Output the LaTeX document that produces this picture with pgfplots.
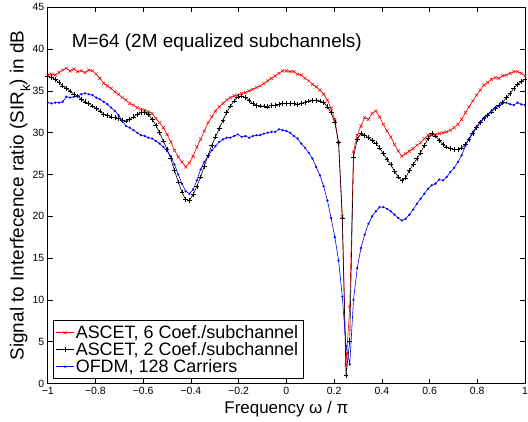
\documentclass[border=0pt]{standalone}
\usepackage{fontspec}
\setmainfont{Liberation Sans}
\usepackage{pgfplots}
\usepackage{pgfplotstable}
\pgfplotsset{compat=1.18}
\pgfplotstableread{
x r b o
-1.0000 36.9 36.8 33.6
-0.9844 37.0 36.6 33.5
-0.9688 36.9 36.4 33.6
-0.9531 37.2 36.0 33.6
-0.9375 37.5 35.6 33.7
-0.9219 37.7 35.3 34.3
-0.9063 37.4 35.0 34.2
-0.8906 37.6 34.6 34.3
-0.8750 37.3 34.4 34.4
-0.8594 37.4 34.0 34.6
-0.8438 37.2 33.7 34.7
-0.8281 37.5 33.5 34.6
-0.8125 37.4 33.2 34.5
-0.7969 37.0 32.9 34.2
-0.7813 36.5 32.6 34.0
-0.7656 35.9 32.2 33.7
-0.7500 35.6 32.1 33.4
-0.7344 35.3 31.9 33.0
-0.7188 34.9 31.8 32.6
-0.7031 34.6 31.7 32.1
-0.6875 34.2 31.5 31.4
-0.6719 33.9 31.4 30.8
-0.6563 33.5 31.6 30.6
-0.6406 33.3 31.9 30.3
-0.6250 33.0 32.2 30.0
-0.6094 32.8 32.4 29.7
-0.5938 32.7 32.4 29.6
-0.5781 32.5 32.2 29.4
-0.5625 32.3 31.6 29.3
-0.5469 31.7 30.9 29.0
-0.5313 31.2 30.0 28.7
-0.5156 30.6 29.0 28.3
-0.5000 29.8 28.0 27.8
-0.4844 28.9 26.9 27.2
-0.4688 27.9 25.5 26.2
-0.4531 27.1 24.1 25.0
-0.4375 26.5 22.9 23.9
-0.4219 25.9 22.0 23.0
-0.4063 26.4 21.9 22.7
-0.3906 27.2 22.6 23.2
-0.3750 28.3 23.6 24.3
-0.3594 29.2 24.7 25.6
-0.3438 30.2 26.0 26.5
-0.3281 31.2 27.3 27.2
-0.3125 31.9 28.5 27.9
-0.2969 32.6 29.5 28.4
-0.2813 33.1 30.5 28.9
-0.2656 33.5 31.5 29.2
-0.2500 33.9 32.4 29.4
-0.2344 34.2 33.2 29.4
-0.2188 34.4 33.8 29.6
-0.2031 34.5 34.3 29.8
-0.1875 34.7 34.4 29.5
-0.1719 34.8 34.2 29.6
-0.1563 35.0 33.9 29.4
-0.1406 35.2 33.5 29.6
-0.1250 35.4 33.3 29.7
-0.1094 35.6 33.2 29.7
-0.0938 35.9 33.2 29.9
-0.0781 36.2 33.1 30.0
-0.0625 36.5 33.3 30.1
-0.0469 36.8 33.3 30.1
-0.0313 37.1 33.4 30.4
-0.0156 37.4 33.5 30.3
0.0000 37.4 33.5 30.2
0.0156 37.3 33.5 30.0
0.0313 37.3 33.5 29.6
0.0469 37.0 33.4 29.3
0.0625 36.9 33.5 28.7
0.0781 36.5 33.6 28.2
0.0938 36.2 33.8 27.6
0.1094 35.8 33.9 26.9
0.1250 35.5 33.9 25.9
0.1406 35.1 33.8 24.9
0.1563 34.6 33.6 23.6
0.1719 33.9 33.1 21.9
0.1875 32.9 32.4 19.8
0.2031 31.6 31.2 17.5
0.2188 28.8 28.8 14.7
0.2344 20.0 19.8 10.4
0.2500 2.2 1.0 4.5
0.2656 9.2 5.1 2.3
0.2813 27.7 27.1 10.0
0.2969 29.7 29.2 13.8
0.3125 30.8 29.9 16.2
0.3281 31.8 29.7 17.8
0.3438 31.6 29.4 19.1
0.3594 32.3 29.1 20.0
0.3750 32.6 28.7 20.6
0.3906 31.9 28.2 21.1
0.4063 31.0 27.5 21.1
0.4219 30.2 26.8 20.9
0.4375 29.5 26.2 20.6
0.4531 28.6 25.4 20.2
0.4688 27.8 24.7 19.8
0.4844 27.2 24.3 19.5
0.5000 27.5 24.6 19.7
0.5156 27.8 25.5 20.2
0.5313 28.1 26.2 20.8
0.5469 28.5 26.9 21.5
0.5625 28.8 27.6 22.1
0.5781 29.3 28.5 22.7
0.5938 29.7 29.3 23.3
0.6094 29.7 29.9 23.7
0.6250 29.8 29.6 23.9
0.6406 29.9 29.1 24.4
0.6563 30.0 28.6 24.3
0.6719 30.1 28.3 24.7
0.6875 30.3 28.1 25.3
0.7031 30.6 28.0 25.8
0.7188 31.0 28.0 26.5
0.7344 31.6 28.2 27.3
0.7500 32.4 28.6 28.4
0.7656 33.1 29.2 29.3
0.7813 33.8 29.9 30.1
0.7969 34.5 30.6 30.7
0.8125 35.1 31.2 31.3
0.8281 35.7 31.7 31.8
0.8438 36.0 32.1 32.2
0.8594 36.4 32.5 32.6
0.8750 36.6 32.9 33.0
0.8906 36.5 33.3 33.2
0.9063 36.8 33.6 33.5
0.9219 36.9 34.2 33.6
0.9375 37.1 34.7 33.4
0.9531 37.3 35.3 33.3
0.9688 37.3 35.8 33.6
0.9844 37.1 36.1 33.4
1.0000 36.8 36.4 33.3
}\datatab
\begin{document}
\begin{tikzpicture}
\begin{axis}[
  scale only axis, width=477bp, height=376bp,
  xmin=-1, xmax=1, ymin=0, ymax=45,
  xtick={-1,-0.8,-0.6,-0.4,-0.2,0,0.2,0.4,0.6,0.8,1},
  xticklabels={−1,−0.8,−0.6,−0.4,−0.2,0,0.2,0.4,0.6,0.8,1},
  ytick={0,5,10,15,20,25,30,35,40,45},
  /pgf/number format/assume math mode=true,
  tick align=inside, tick pos=both, xticklabel pos=left, yticklabel pos=left,
  major tick length=5bp,
  tick style={black, line width=0.6pt},
  axis line style={line width=0.9pt},
  ticklabel style={font=\fontsize{10.5}{12}\selectfont},
  xlabel={Frequency ω / π},
  ylabel={Signal to Interfecence ratio (SIR\raisebox{-0.35em}{\fontsize{13.5}{13.5}\selectfont k}) in dB},
  xlabel style={font=\fontsize{17}{20}\selectfont},
  ylabel style={font=\fontsize{19}{22}\selectfont, at={(axis description cs:-0.058,0.5)}, anchor=center},
  legend style={at={(0.0105,0.011)}, anchor=south west, draw=black, line width=0.9pt,
    font=\fontsize{18}{18}\selectfont, row sep=-1.5pt, inner sep=3bp},
  legend cell align=left,
]
\addplot[red, line width=0.6pt, mark=x, mark size=2.2bp, mark options={solid, line width=0.5pt}] table[x=x, y=r] {\datatab};
\addlegendentry{ASCET, 6 Coef./subchannel}
\addplot[black, line width=0.6pt, mark=+, mark size=2.4bp, mark options={solid, line width=0.5pt}] table[x=x, y=b] {\datatab};
\addlegendentry{ASCET, 2 Coef./subchannel}
\addplot[blue, line width=0.6pt, mark=*, mark size=0.8bp, mark options={solid, blue}] table[x=x, y=o] {\datatab};
\addlegendentry{OFDM, 128 Carriers}
\node[anchor=west, inner sep=0pt, font=\fontsize{19}{22}\selectfont] at (axis cs:-0.9,40.8) {M=64 (2M equalized subchannels)};
\end{axis}
\pgfresetboundingbox
\path[use as bounding box] (current axis.south west) ++(-47.7bp,-37.7bp) rectangle ([xshift=3bp,yshift=7.3bp]current axis.north east);
\end{tikzpicture}
\end{document}
